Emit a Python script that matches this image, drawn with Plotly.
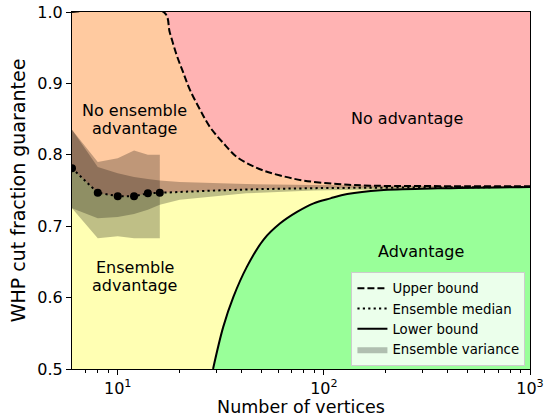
import math
import plotly.graph_objects as go

# Upper bound on the guaranteed cut fraction (capped at 1)
n_upper = [6, 16.7, 17.9, 19.3, 20.8, 22.4, 25.1, 28.0, 32.5, 37.8, 43.9, 50.8,
           61.4, 79.4, 116, 168, 300, 1000]
upper_bound = [1.0, 1.0, 0.971, 0.940, 0.915, 0.891, 0.863, 0.839, 0.8165, 0.797,
               0.786, 0.778, 0.771, 0.764, 0.759, 0.7568, 0.7562, 0.756]

# Lower bound (enters the visible range at 0.5)
n_lower = [29.0, 32.5, 36.4, 42.3, 50.9, 61.4, 74.1, 89.2, 107.6, 129.8, 188, 357, 1000]
lower_bound = [0.5, 0.559, 0.601, 0.643, 0.681, 0.704, 0.720, 0.732, 0.739, 0.745,
               0.7505, 0.753, 0.755]

# Ensemble median, extended over the full range
n_median = [6, 8, 10, 12, 14, 16, 20, 30, 50, 100, 200, 500, 1000]
median = [0.781, 0.747, 0.742, 0.742, 0.746, 0.747, 0.748, 0.750, 0.752, 0.7535,
          0.754, 0.7545, 0.755]

# Sampled graph sizes and their ensemble statistics
n_samples = [6, 8, 10, 12, 14, 16]
sample_median = [0.781, 0.747, 0.742, 0.742, 0.746, 0.747]
sample_low = [0.725, 0.683, 0.686, 0.683, 0.683, 0.683]
sample_high = [0.835, 0.790, 0.795, 0.806, 0.800, 0.800]

# Spread of the fitted ensemble, extended over the full range
n_fit = [6, 8, 10, 12, 14, 16, 20, 30, 42, 89, 200, 500, 1000]
fit_low = [0.725, 0.711, 0.713, 0.717, 0.723, 0.730, 0.737, 0.742, 0.746, 0.750,
           0.752, 0.754, 0.7545]
fit_high = [0.835, 0.783, 0.774, 0.769, 0.766, 0.764, 0.762, 0.760, 0.759, 0.7577,
            0.7565, 0.756, 0.7555]

x_tickvals = [10, 100, 1000]
x_ticktext = ["10<sup>1</sup>", "10<sup>2</sup>", "10<sup>3</sup>"]
x_minor = [7, 8, 9, 20, 30, 40, 50, 60, 70, 80, 90, 200, 300, 400, 500, 600, 700, 800, 900]

# Region labels: (text, n, value)
region_labels = [
    ("No ensemble", 12.0, 0.862),
    ("advantage", 12.0, 0.837),
    ("No advantage", 252, 0.8515),
    ("Advantage", 295, 0.664),
    ("Ensemble", 12.1, 0.642),
    ("advantage", 12.1, 0.617),
]

PINK = "#FFB3B3"
ORANGE = "#FFCAA0"
YELLOW = "#FFFFB3"
GREEN = "#99FF99"
SHADE = "rgba(0,0,0,0.25)"
FONT = "DejaVu Sans"

fig = go.Figure()

# Region fills: everything below the upper bound is orange, below the median yellow,
# below the lower bound green; the plot background supplies the pink region.
fig.add_trace(go.Scatter(x=n_upper, y=upper_bound, mode="lines", fill="tozeroy",
                         fillcolor=ORANGE, line=dict(width=0, shape="spline"),
                         showlegend=False, hoverinfo="skip"))
fig.add_trace(go.Scatter(x=n_median, y=median, mode="lines", fill="tozeroy",
                         fillcolor=YELLOW, line=dict(width=0),
                         showlegend=False, hoverinfo="skip"))
fig.add_trace(go.Scatter(x=n_lower, y=lower_bound, mode="lines", fill="tozeroy",
                         fillcolor=GREEN, line=dict(width=0, shape="spline"),
                         showlegend=False, hoverinfo="skip"))

# Fitted spread band
fig.add_trace(go.Scatter(x=n_fit, y=fit_low, mode="lines", line=dict(width=0),
                         showlegend=False, hoverinfo="skip"))
fig.add_trace(go.Scatter(x=n_fit, y=fit_high, mode="lines", fill="tonexty",
                         fillcolor=SHADE, line=dict(width=0),
                         showlegend=False, hoverinfo="skip"))

# Sampled spread band
fig.add_trace(go.Scatter(x=n_samples, y=sample_low, mode="lines", line=dict(width=0),
                         showlegend=False, hoverinfo="skip"))
fig.add_trace(go.Scatter(x=n_samples, y=sample_high, mode="lines", fill="tonexty",
                         fillcolor=SHADE, line=dict(width=0),
                         name="Ensemble variance", legendrank=4))

# Bound and median lines
fig.add_trace(go.Scatter(x=n_upper, y=upper_bound, mode="lines",
                         line=dict(color="black", width=2, dash="7px,3px", shape="spline"),
                         name="Upper bound", legendrank=1))
fig.add_trace(go.Scatter(x=n_median, y=median, mode="lines",
                         line=dict(color="black", width=2, dash="2.2px,3.2px"),
                         name="Ensemble median", legendrank=2))
fig.add_trace(go.Scatter(x=n_lower, y=lower_bound, mode="lines",
                         line=dict(color="black", width=2, shape="spline"),
                         name="Lower bound", legendrank=3))
fig.add_trace(go.Scatter(x=n_samples, y=sample_median, mode="markers",
                         marker=dict(color="black", size=8),
                         showlegend=False, hoverinfo="skip"))

# Annotations on a log axis take log10 positions
for text, lx, ly in region_labels:
    fig.add_annotation(x=math.log10(lx), y=ly, xref="x", yref="y", text=text,
                       showarrow=False,
                       font=dict(family=FONT, size=16, color="black"),
                       xanchor="center", yanchor="middle")

axis_common = dict(showline=True, linecolor="black", linewidth=1, mirror=True,
                   showgrid=False, zeroline=False, ticks="outside", ticklen=5,
                   tickwidth=1, tickcolor="black", automargin=False,
                   tickfont=dict(family=FONT, size=16, color="black"))

fig.update_xaxes(type="log", range=[math.log10(6), 3.0], tickvals=x_tickvals,
                 ticktext=x_ticktext,
                 minor=dict(tickvals=x_minor, ticks="outside", ticklen=3,
                            tickcolor="black", tickwidth=1, showgrid=False),
                 title=dict(text="Number of vertices",
                            font=dict(family=FONT, size=17.5, color="black"),
                            standoff=5),
                 **axis_common)
fig.update_yaxes(range=[0.5, 1.0], dtick=0.1, tick0=0.5, tickformat=".1f",
                 title=dict(text="WHP cut fraction guarantee",
                            font=dict(family=FONT, size=19, color="black"),
                            standoff=6),
                 **axis_common)

fig.update_layout(
    width=548, height=417,
    margin=dict(l=72, r=18, t=12, b=48),
    paper_bgcolor="white",
    plot_bgcolor=PINK,
    font=dict(family=FONT, color="black"),
    legend=dict(x=0.99, y=0.008, xanchor="right", yanchor="bottom",
                bgcolor="rgba(255,255,255,0.8)", bordercolor="#CCCCCC",
                borderwidth=1, font=dict(family=FONT, size=13.3, color="black"),
                traceorder="normal", tracegroupgap=0),
)

fig.write_html("out.html")
